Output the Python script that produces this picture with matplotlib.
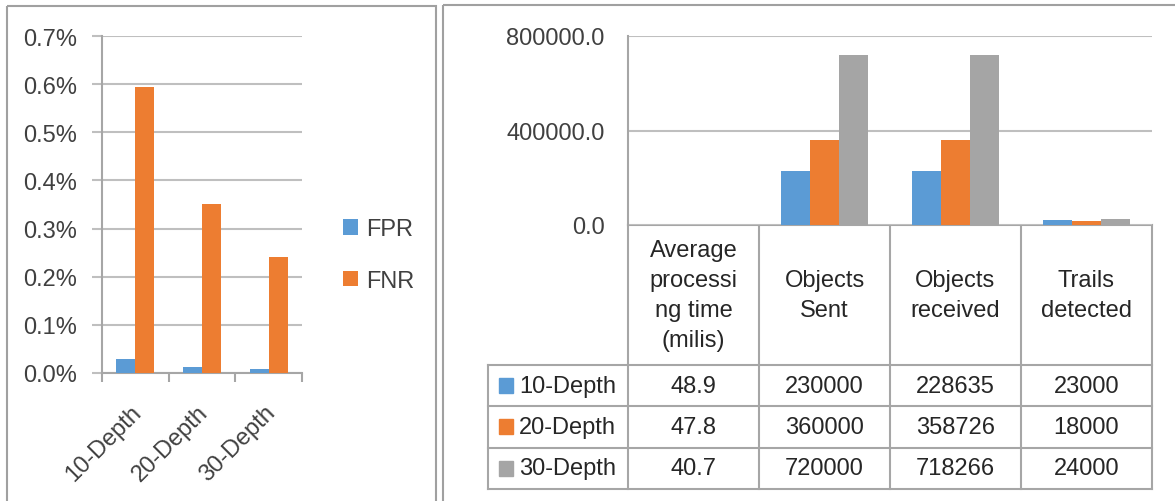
import matplotlib
matplotlib.use("Agg")
import matplotlib.pyplot as plt
import numpy as np
from matplotlib import transforms
from matplotlib.patches import Rectangle
from matplotlib.lines import Line2D

plt.rcParams['font.family'] = ['Liberation Sans', 'DejaVu Sans']

# ---------------- data ----------------
depths = ["10-Depth", "20-Depth", "30-Depth"]
fpr = [0.029, 0.013, 0.008]        # percent
fnr = [0.595, 0.352, 0.240]        # percent
rate_ticks = [0.0, 0.1, 0.2, 0.3, 0.4, 0.5, 0.6, 0.7]

metrics = ["Average\nprocessi\nng time\n(milis)", "Objects\nSent", "Objects\nreceived", "Trails\ndetected"]
depth10 = [48.9, 230000, 228635, 23000]
depth20 = [47.8, 360000, 358726, 18000]
depth30 = [40.7, 720000, 718266, 24000]
value_ticks = [0.0, 400000.0, 800000.0]

c_blue = "#5B9BD5"
c_orange = "#ED7D31"
c_gray = "#A5A5A5"
grid_c = "#BFBFBF"
line_c = "#A6A6A6"
txt_c = "#404040"
FS = 17

W, H = 1175, 502
fig = plt.figure(figsize=(W / 100, H / 100), dpi=100)

def fx(px):
    return px / W

def fy(py):
    return 1 - py / H

# overlay for panel borders & table (pixel-like coordinates)
ov = fig.add_axes([0, 0, 1, 1], zorder=-1)
ov.set_xlim(0, W)
ov.set_ylim(H, 0)
ov.axis("off")
ov.add_patch(Rectangle((7, 7), 436 - 7, H + 10, fill=False, ec="#A0A0A0", lw=1.5))
ov.add_patch(Rectangle((443, 5.5), W, H + 10, fill=False, ec="#A0A0A0", lw=1.5))

# ---------------- left chart ----------------
ax1 = fig.add_axes([fx(102), fy(374), fx(302) - fx(102), fy(37) - fy(374)])
x = np.arange(len(depths))
bw = 0.285
ax1.bar(x - bw / 2, fpr, bw, color=c_blue, label="FPR", zorder=3)
ax1.bar(x + bw / 2, fnr, bw, color=c_orange, label="FNR", zorder=3)
ax1.set_xlim(-0.5, len(depths) - 0.5)
ax1.set_ylim(0, 0.7)
ax1.set_yticks(rate_ticks)
ax1.set_yticklabels([f"{t:.1f}%" for t in rate_ticks], fontsize=FS, color=txt_c)
ax1.yaxis.grid(True, color=grid_c, lw=1.5, zorder=0)
ax1.tick_params(axis="y", length=7.2, width=1.5, color=grid_c, pad=11)
ax1.set_xticks(x)
ax1.set_xticklabels(depths, fontsize=FS, color=txt_c, rotation=45, ha="right",
                    va="center", rotation_mode="anchor")
ax1.tick_params(axis="x", which="major", length=0, pad=26)
ax1.set_xticks(np.arange(-0.5, len(depths)), minor=True)
ax1.tick_params(axis="x", which="minor", length=6.5, width=1.5, color=line_c)
off = transforms.ScaledTranslation(3 / 100, 0, fig.dpi_scale_trans)
for lbl in ax1.get_xticklabels():
    lbl.set_transform(lbl.get_transform() + off)
for s in ["top", "right"]:
    ax1.spines[s].set_visible(False)
ax1.spines["left"].set_color(line_c)
ax1.spines["bottom"].set_color(line_c)
ax1.spines["left"].set_linewidth(1.5)
ax1.spines["bottom"].set_linewidth(1.5)
ax1.legend(loc="center left", bbox_to_anchor=(fx(343), fy(256)), bbox_transform=fig.transFigure,
           frameon=False, fontsize=FS, handlelength=0.65, handleheight=0.65,
           handletextpad=0.35, labelspacing=1.25, borderpad=0, borderaxespad=0,
           labelcolor=txt_c)

# ---------------- right chart ----------------
ax2 = fig.add_axes([fx(628), fy(226), fx(1152) - fx(628), fy(37) - fy(226)])
m = np.arange(len(metrics))
bw2 = 0.22
series = [(depth10, c_blue, depths[0]), (depth20, c_orange, depths[1]), (depth30, c_gray, depths[2])]
for i, (vals, col, lab) in enumerate(series):
    ax2.bar(m + (i - 1) * bw2, vals, bw2, color=col, label=lab, zorder=3)
ax2.set_xlim(-0.5, len(metrics) - 0.5)
ax2.set_ylim(0, 800000)
ax2.set_yticks(value_ticks)
ax2.set_yticklabels([f"{t:.1f}" for t in value_ticks], fontsize=FS, color=txt_c)
ax2.yaxis.grid(True, color=grid_c, lw=1.5, zorder=0)
ax2.tick_params(axis="y", length=0, pad=17)
ax2.set_xticks([])
for s in ["top", "right", "bottom"]:
    ax2.spines[s].set_visible(False)
ax2.spines["left"].set_color(line_c)
ax2.spines["left"].set_linewidth(1.5)

# ---------------- data table under right chart ----------------
bt = transforms.blended_transform_factory(ax2.transData, ov.transData)
top_y, head_y = 226, 366
row_h = 41.3
rows_y = [head_y + k * row_h for k in range(len(series) + 1)]
bottom_y = rows_y[-1]
edges = np.arange(-0.5, len(metrics))
legend_left = 488
tl = dict(color=line_c, lw=1.5, zorder=5)
# vertical column lines
for e in edges:
    ov.add_line(Line2D([e, e], [top_y, bottom_y], transform=bt, **tl))
ov.add_line(Line2D([legend_left, legend_left], [head_y, bottom_y], **tl))
# horizontal lines
ov.add_line(Line2D([-0.5, len(metrics) - 0.5], [top_y, top_y], transform=bt, **tl))
x_right = ax2.transData.transform((len(metrics) - 0.5, 0))[0]
for yy in rows_y:
    ov.add_line(Line2D([legend_left, x_right], [yy, yy], **tl))
# header text
for j, name in enumerate(metrics):
    ov.text(j, (top_y + head_y) / 2, name, transform=bt, ha="center", va="center",
            fontsize=FS, color="#262626", linespacing=1.48)
# body
for r, (vals, col, lab) in enumerate(series):
    cy = (rows_y[r] + rows_y[r + 1]) / 2
    ov.add_patch(Rectangle((499, cy - 7.5), 14, 15, color=col, zorder=6))
    ov.text(519, cy, lab, ha="left", va="center", fontsize=FS, color="#262626")
    for j, v in enumerate(vals):
        s = f"{v:.1f}" if j == 0 else f"{int(v)}"
        ov.text(j, cy, s, transform=bt, ha="center", va="center", fontsize=FS, color="#262626")

fig.savefig("out.png", dpi=100)
